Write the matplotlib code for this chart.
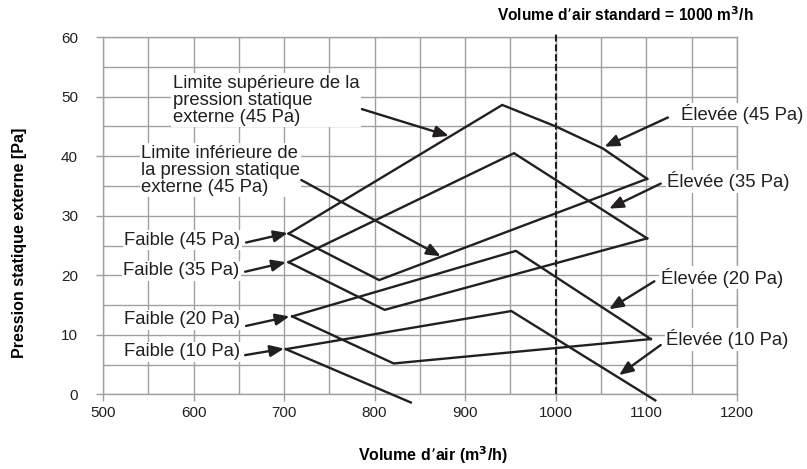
import matplotlib
matplotlib.use("Agg")
import matplotlib.pyplot as plt
from matplotlib.ticker import MultipleLocator

plt.rcParams["font.family"] = ["Liberation Sans", "DejaVu Sans"]

INK, GRID = "#231f20", "#a0a0a0"

# upper / lower limit curves per static pressure setting (x: m3/h, y: Pa)
up45_x = [705, 941, 1000, 1052, 1101]
up45_y = [27.0, 48.6, 45.0, 41.3, 36.2]
lo45_x = [705, 805, 1101]
lo45_y = [27.0, 19.2, 36.2]
up35_x = [705, 954, 1101]
up35_y = [22.2, 40.5, 26.2]
lo35_x = [705, 811, 1101]
lo35_y = [22.2, 14.2, 26.2]
up20_x = [709, 956, 1105]
up20_y = [13.1, 24.1, 9.3]
lo20_x = [709, 821, 1105]
lo20_y = [13.1, 5.2, 9.3]
up10_x = [702, 951, 1110]
up10_y = [7.6, 14.0, -1.0]
lo10_x = [702, 840]
lo10_y = [7.6, -1.35]

STD_AIR = 1000

# label text, alignment, text position, arrow tip, arrow tail (data coords)
labels = [
    ("Limite supérieure de la\npression statique\nexterne (45 Pa)", "left", (577, 49.4), (882, 43.4), (786, 47.9)),
    ("Limite inférieure de\nla pression statique\nexterne (45 Pa)", "left", (542, 37.6), (873, 23.2), (719, 36.0)),
    ("Faible (45 Pa)", "right", (652, 25.9), (704, 27.1), (658, 25.5)),
    ("Faible (35 Pa)", "right", (651, 20.8), (702, 22.2), (657, 20.6)),
    ("Faible (20 Pa)", "right", (651, 12.5), (706, 13.1), (658, 11.5)),
    ("Faible (10 Pa)", "right", (651, 7.2), (700, 7.7), (657, 6.6)),
    ("Élevée (45 Pa)", "left", (1138, 47.0), (1054, 41.6), (1124, 46.5)),
    ("Élevée (35 Pa)", "left", (1123, 35.8), (1059, 31.2), (1116, 35.4)),
    ("Élevée (20 Pa)", "left", (1116, 19.6), (1059, 14.3), (1109, 19.0)),
    ("Élevée (10 Pa)", "left", (1122, 9.3), (1070, 3.25), (1116, 8.3)),
]

fig = plt.figure(figsize=(8.07, 4.69), dpi=100)
ax = fig.add_axes([0.1276, 0.159, 0.7854, 0.762])

ax.set_xlim(500, 1200)
ax.set_ylim(0, 60)
ax.xaxis.set_major_locator(MultipleLocator(100))
ax.xaxis.set_minor_locator(MultipleLocator(50))
ax.yaxis.set_major_locator(MultipleLocator(10))
ax.yaxis.set_minor_locator(MultipleLocator(5))
ax.grid(which="both", color=GRID, linewidth=1.0, zorder=0)
ax.set_axisbelow(True)
for s in ax.spines.values():
    s.set_color(GRID)
    s.set_linewidth(1.0)
ax.tick_params(which="major", length=5, width=1.0, color=GRID,
               labelsize=11, labelcolor=INK)
ax.tick_params(axis="x", pad=3)
ax.tick_params(axis="y", pad=13)
ax.tick_params(which="minor", length=0)

for xs, ys in [(up45_x, up45_y), (lo45_x, lo45_y), (up35_x, up35_y),
               (lo35_x, lo35_y), (up20_x, up20_y), (lo20_x, lo20_y),
               (up10_x, up10_y), (lo10_x, lo10_y)]:
    ax.plot(xs, ys, color=INK, linewidth=1.7, zorder=3, clip_on=False,
            solid_joinstyle="miter")

ax.plot([STD_AIR, STD_AIR], [0, 60.5], color=INK, linewidth=1.5,
        linestyle=(0, (3.3, 1.4)), zorder=3, clip_on=False)

for text, ha, (tx, ty), (px, py), (sx, sy) in labels:
    ax.text(tx, ty, text, fontsize=13.3, color=INK, ha=ha, va="center",
            linespacing=1.0, zorder=4, clip_on=False,
            bbox=dict(facecolor="white", edgecolor="none", pad=1.0))
    ax.annotate("", xy=(px, py), xytext=(sx, sy), zorder=5,
                annotation_clip=False,
                arrowprops=dict(arrowstyle="-|>,head_length=0.6,head_width=0.25",
                                color=INK, lw=1.7, mutation_scale=14,
                                shrinkA=0, shrinkB=0))

fig.text(358 / 807, 1 - 455 / 469, "Volume d\u2019air (m$^\\mathbf{3}$/h)",
         fontsize=11.5, fontweight="bold", color="black", ha="left", va="center")
fig.text(19.5 / 807, 1 - 128 / 469, "Pression statique externe [Pa]",
         fontsize=11.5, fontweight="bold", color="black", rotation=90,
         ha="center", va="top")
fig.text(497 / 807, 1 - 15 / 469, "Volume d\u2019air standard = 1000 m$^\\mathbf{3}$/h",
         fontsize=11.2, fontweight="bold", color="black", ha="left", va="center")

fig.savefig("out.png", dpi=100, facecolor="white")
